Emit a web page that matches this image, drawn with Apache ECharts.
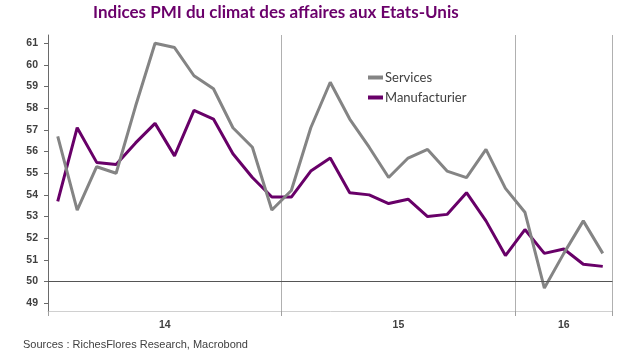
<!DOCTYPE html>
<html><head><meta charset="utf-8">
<script src="https://cdn.jsdelivr.net/npm/echarts@6/dist/echarts.min.js"></script>
<style>html,body{margin:0;padding:0;background:#fff}#c{width:627px;height:354px}</style>
</head><body><div id="c"></div>
<script>
const months = ['2014-01','2014-02','2014-03','2014-04','2014-05','2014-06','2014-07','2014-08','2014-09','2014-10','2014-11','2014-12',
  '2015-01','2015-02','2015-03','2015-04','2015-05','2015-06','2015-07','2015-08','2015-09','2015-10','2015-11','2015-12',
  '2016-01','2016-02','2016-03','2016-04','2016-05'];
const services = [56.7,53.3,55.3,55.0,58.1,61.0,60.8,59.5,58.9,57.1,56.2,53.3,
  54.2,57.1,59.2,57.5,56.2,54.8,55.7,56.1,55.1,54.8,56.1,54.3,
  53.2,49.7,51.3,52.8,51.3];
const manufacturier = [53.7,57.1,55.5,55.4,56.4,57.3,55.8,57.9,57.5,55.9,54.8,53.9,
  53.9,55.1,55.7,54.1,54.0,53.6,53.8,53.0,53.1,54.1,52.8,51.2,
  52.4,51.3,51.5,50.8,50.7];
const yTicks = [49,50,51,52,53,54,55,56,57,58,59,60,61];
const yearLabels = ['14','15','16'];
const seriesNames = ['Services','Manufacturier'];
const titleText = 'Indices PMI du climat des affaires aux Etats-Unis';
const sourceText = 'Sources : RichesFlores Research, Macrobond';

const yearPos = yearLabels.map(y => {
  const idx = months.map((m, i) => m.startsWith('20' + y) ? i : -1).filter(i => i >= 0);
  return (idx[0] + idx[idx.length - 1] + 1) / 2;
});

const chart = echarts.init(document.getElementById('c'), null, {renderer: 'canvas'});
const grid = {left: 48, right: 14.5, top: 35, bottom: 43};
chart.setOption({
  animation: false,
  backgroundColor: '#fff',
  grid: grid,
  graphic: [
    {type: 'text', left: 93, top: 4, style: {text: titleText, fill: '#6B006B', font: 'bold 17px Lato', textAlign: 'left'}},
    {type: 'text', left: 23, top: 339, style: {text: sourceText, fill: '#404040', font: '11px "Liberation Sans"'}}
  ],
  legend: {
    data: seriesNames,
    orient: 'vertical',
    left: 363, top: 66,
    itemWidth: 15, itemHeight: 4, itemGap: 7,
    icon: 'rect',
    textStyle: {fontFamily: 'Lato', fontSize: 13, color: '#404040', padding: [0,0,0,-3]}
  },
  xAxis: [{
    type: 'category',
    data: months,
    boundaryGap: true,
    axisLine: {show: true, lineStyle: {color: '#d0d0d0', width: 1}},
    axisTick: {show: true, length: 5, interval: (i) => i % 12 === 0, lineStyle: {color: '#a0a0a0'}},
    splitLine: {show: true, interval: (i) => i % 12 === 0, lineStyle: {color: '#b0b0b0', width: 1}},
    axisLabel: {show: false}
  }, {
    type: 'value',
    min: 0, max: months.length,
    position: 'bottom',
    axisLine: {show: false}, axisTick: {show: false}, splitLine: {show: false},
    axisLabel: {
      show: true, customValues: yearPos, margin: 9,
      formatter: (v) => yearLabels[yearPos.indexOf(v)] || '',
      fontFamily: 'Liberation Sans', fontWeight: 'bold', fontSize: 10.5, color: '#404040'
    }
  }],
  yAxis: {
    type: 'value',
    min: 48.64, max: 61.38,
    offset: 5,
    axisLine: {show: true, lineStyle: {color: '#6a6a6a', width: 1}},
    axisTick: {show: true, length: 4, customValues: yTicks, lineStyle: {color: '#6a6a6a'}},
    splitLine: {show: false},
    axisLabel: {customValues: yTicks, margin: 5, fontFamily: 'Liberation Sans', fontWeight: 'bold', fontSize: 10.5, color: '#404040'}
  },
  series: [{
    name: seriesNames[1], type: 'line', data: manufacturier, symbol: 'none',
    lineStyle: {color: '#680068', width: 3}, itemStyle: {color: '#680068'},
    markLine: {silent: true, symbol: 'none', label: {show: false},
      lineStyle: {color: '#555', width: 1.2, type: 'solid'}, data: [{yAxis: 50}]}
  }, {
    name: seriesNames[0], type: 'line', data: services, symbol: 'none',
    lineStyle: {color: '#848484', width: 3}, itemStyle: {color: '#848484'}
  }]
});
</script>
</body></html>
